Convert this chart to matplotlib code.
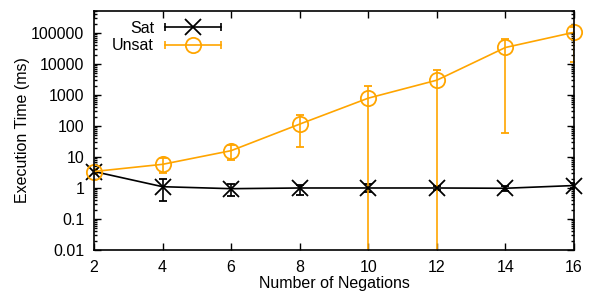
import matplotlib

matplotlib.use("Agg")
import matplotlib.pyplot as plt
import numpy as np
from matplotlib.legend_handler import HandlerLine2D, HandlerTuple
from matplotlib.lines import Line2D
from matplotlib.ticker import FixedLocator, FuncFormatter, LogLocator, NullFormatter

# number of negations on the x axis
negations = [2, 4, 6, 8, 10, 12, 14, 16]

# Sat runs: mean time and low/high of the error bar (ms)
sat_time = [3.4, 1.1, 0.95, 1.0, 1.0, 1.0, 0.98, 1.2]
sat_low = [2.9, 0.39, 0.55, 0.6, 0.75, 0.85, 0.8, 1.0]
sat_high = [4.0, 1.9, 1.35, 1.25, 1.3, 1.15, 1.2, 1.45]

# Unsat runs (lower bars of 10 and 12 reach below the axis)
unsat_time = [3.4, 5.8, 16, 115, 790, 3000, 34000, 105000]
unsat_low = [2.8, 3.0, 7.9, 21, 0.001, 0.001, 59, 12000]
unsat_high = [4.0, 9.4, 25, 220, 1900, 6400, 63000, 150000]

y_ticks = [0.01, 0.1, 1, 10, 100, 1000, 10000, 100000]
x_ticks = [2, 4, 6, 8, 10, 12, 14, 16]

ORANGE = "#ffa500"

plt.rcParams["font.family"] = ["Liberation Sans", "DejaVu Sans"]
plt.rcParams["font.size"] = 11.5


def main():
    fig = plt.figure(figsize=(6.0, 2.96), dpi=100)
    ax = fig.add_axes([0.1567, 0.1554, 0.8, 0.8074])

    series = [
        ("Sat", sat_time, sat_low, sat_high, "black", "x", 12),
        ("Unsat", unsat_time, unsat_low, unsat_high, ORANGE, "o", 11),
    ]
    handles = []
    handler_map = {}
    for label, mid, low, high, color, marker, msize in series:
        mid = np.array(mid, dtype=float)
        yerr = np.vstack([mid - np.array(low), np.array(high) - mid])
        container = ax.errorbar(
            negations, mid, yerr=yerr, color=color, marker=marker, markersize=msize,
            markerfacecolor="none", markeredgewidth=1.3, linewidth=1.2,
            elinewidth=1.2, capsize=3, capthick=1.2,
        )
        # markers at the plot edges are drawn whole, as gnuplot does
        container[0].set_clip_on(False)
        line = Line2D([], [], color=color, marker=marker, markersize=msize,
                      markerfacecolor="none", markeredgewidth=1.3, linewidth=1.2)
        caps = Line2D([], [], color=color, marker="|", markersize=6,
                      markeredgewidth=1.2, linestyle="none")
        handler_map[caps] = HandlerLine2D(numpoints=2, marker_pad=0.0)
        handles.append(((line, caps), label))

    handler_map[tuple] = HandlerTuple(ndivide=1)
    ax.legend(
        [h for h, _ in handles], [l for _, l in handles], handler_map=handler_map,
        loc="upper left", bbox_to_anchor=(0.017, 1.0), frameon=False, markerfirst=False,
        handlelength=3.5, handletextpad=0.7, labelspacing=0.15, borderaxespad=0.22,
    )

    ax.set_yscale("log")
    ax.set_ylim(0.01, 5.1e5)
    ax.set_xlim(2, 16)
    ax.yaxis.set_major_locator(FixedLocator(y_ticks))
    ax.yaxis.set_major_formatter(FuncFormatter(lambda v, _: f"{v:g}"))
    ax.yaxis.set_minor_locator(LogLocator(base=10, subs=np.arange(2, 10), numticks=20))
    ax.yaxis.set_minor_formatter(NullFormatter())
    ax.set_xticks(x_ticks)

    ax.tick_params(which="both", direction="in", top=True, right=True, width=1.0)
    ax.tick_params(which="major", length=5, pad=7)
    ax.tick_params(which="minor", length=2.5)
    for spine in ax.spines.values():
        spine.set_linewidth(1.2)

    ax.set_xlabel("Number of Negations", labelpad=1)
    ax.set_ylabel("Execution Time (ms)", labelpad=1)

    fig.savefig("out.png", dpi=100)
    plt.close(fig)


if __name__ == "__main__":
    main()
